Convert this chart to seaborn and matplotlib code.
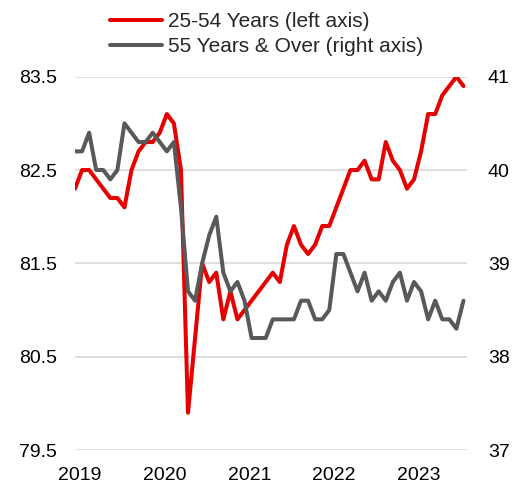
import matplotlib
matplotlib.use("Agg")
import numpy as np
import pandas as pd
import seaborn as sns
import matplotlib.pyplot as plt
from matplotlib.lines import Line2D

# ---- data (monthly, Dec 2018 - Jul 2023) ----
months = pd.date_range("2018-12-01", "2023-07-01", freq="MS")
prime_age = [82.3, 82.5, 82.5, 82.4, 82.3, 82.2, 82.2, 82.1, 82.5, 82.7, 82.8, 82.8, 82.9,
             83.1, 83.0, 82.5, 79.9, 80.7, 81.5, 81.3, 81.4, 80.9, 81.2, 80.9, 81.0,
             81.1, 81.2, 81.3, 81.4, 81.3, 81.7, 81.9, 81.7, 81.6, 81.7, 81.9, 81.9,
             82.1, 82.3, 82.5, 82.5, 82.6, 82.4, 82.4, 82.8, 82.6, 82.5, 82.3, 82.4,
             82.7, 83.1, 83.1, 83.3, 83.4, 83.5, 83.4]
older = [40.2, 40.2, 40.4, 40.0, 40.0, 39.9, 40.0, 40.5, 40.4, 40.3, 40.3, 40.4, 40.3,
         40.2, 40.3, 39.6, 38.7, 38.6, 39.0, 39.3, 39.5, 38.9, 38.7, 38.8, 38.6,
         38.2, 38.2, 38.2, 38.4, 38.4, 38.4, 38.4, 38.6, 38.6, 38.4, 38.4, 38.5,
         39.1, 39.1, 38.9, 38.7, 38.9, 38.6, 38.7, 38.6, 38.8, 38.9, 38.6, 38.8,
         38.7, 38.4, 38.6, 38.4, 38.4, 38.3, 38.6]
left_ticks = [79.5, 80.5, 81.5, 82.5, 83.5]
right_ticks = [37, 38, 39, 40, 41]
left_labels = ["79.5", "80.5", "81.5", "82.5", "83.5"]
right_labels = ["37", "38", "39", "40", "41"]
series_names = ["25-54 Years (left axis)", "55 Years & Over (right axis)"]

df = pd.DataFrame({"idx": np.arange(len(months)), "month": months,
                   "prime": prime_age, "older": older})
jan_idx = [i for i, m in enumerate(months) if m.month == 1]
year_labels = [str(months[i].year) for i in jan_idx]

RED = "#E60000"
GREY = "#595959"
GRID = "#D9D9D9"

sns.set_theme(style="white")
plt.rcParams["font.family"] = ["Liberation Sans", "DejaVu Sans"]
FS = 14
LFS = 15

fig = plt.figure(figsize=(5.23, 4.86), dpi=100)
ax = fig.add_axes([75 / 523, 1 - 450 / 486, (467 - 75) / 523, (450 - 76.7) / 486])

sns.lineplot(data=df, x="idx", y="prime", ax=ax, color=RED, linewidth=2.9, legend=False)
ax2 = ax.twinx()
sns.lineplot(data=df, x="idx", y="older", ax=ax2, color=GREY, linewidth=2.9, legend=False)

ax.set_xlim(0, 55.5)
ax.set_ylim(79.5, 83.5)
ax2.set_ylim(37, 41)
ax.set_yticks(left_ticks)
ax.set_yticklabels(left_labels)
ax2.set_yticks(right_ticks)
ax2.set_yticklabels(right_labels)
ax.set_xticks([i - 0.3 for i in jan_idx])
ax.set_xticklabels(year_labels)
ax.set_xlabel("")
ax.set_ylabel("")
ax2.set_ylabel("")

ax.yaxis.grid(True, color=GRID, linewidth=1.2)
ax.xaxis.grid(False)
ax.set_axisbelow(True)
for a in (ax, ax2):
    for s in a.spines.values():
        s.set_visible(False)
ax.tick_params(axis="y", length=0, pad=13, labelsize=FS, colors="#000000")
ax.tick_params(axis="x", length=0, pad=12, labelsize=FS, colors="#000000")
ax2.tick_params(axis="y", length=0, pad=15, labelsize=FS, colors="#000000")

handles = [Line2D([], [], color=RED, lw=2.9), Line2D([], [], color=GREY, lw=2.9)]
fig.legend(handles, series_names, loc="upper left",
           bbox_to_anchor=(110 / 523, 1 - 12 / 486), frameon=False,
           fontsize=LFS, handlelength=2.5, handletextpad=0.3,
           labelspacing=0.28, borderpad=0, borderaxespad=0)

fig.savefig("out.png", dpi=100)
